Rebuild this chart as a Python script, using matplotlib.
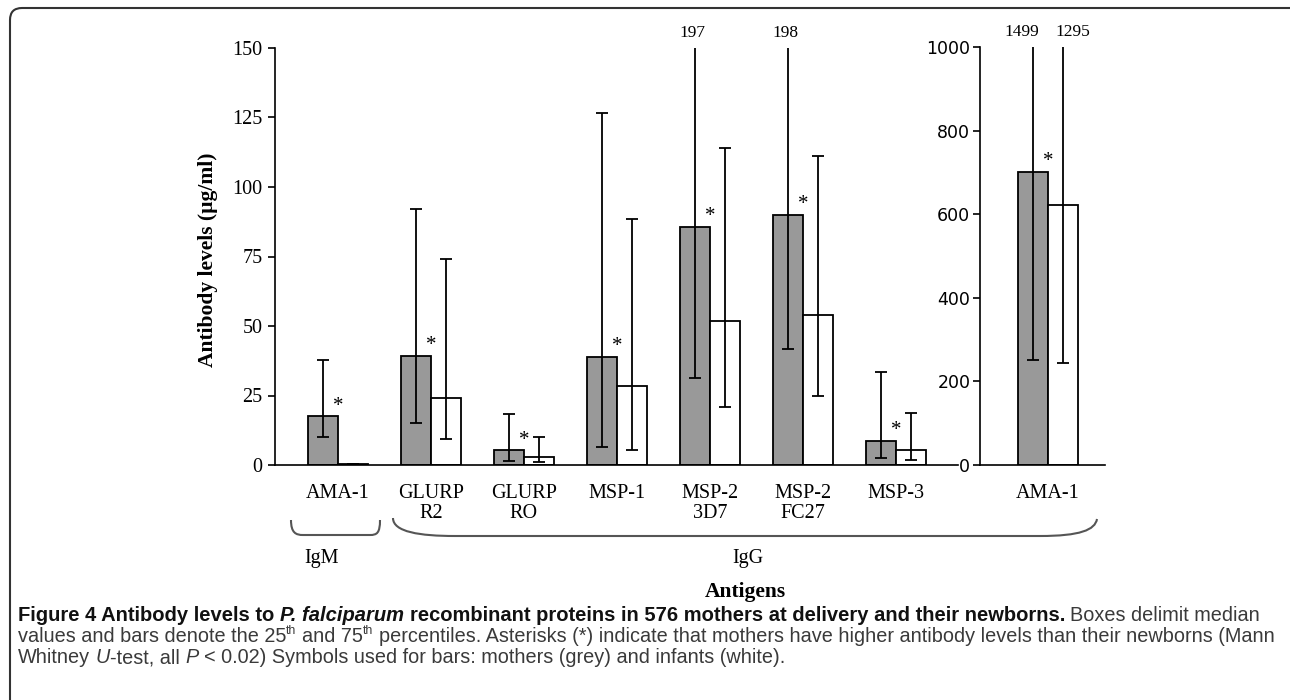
"""Antibody levels to P. falciparum antigens - mothers vs newborns"""
import numpy as np
import matplotlib
matplotlib.use("Agg")
import matplotlib.pyplot as plt
from matplotlib.path import Path
from matplotlib.patches import PathPatch, FancyBboxPatch
from matplotlib.transforms import IdentityTransform

# data (µg/ml): median with 25th / 75th percentiles
antigens = ['AMA-1', 'GLURP\nR2', 'GLURP\nRO', 'MSP-1', 'MSP-2\n3D7', 'MSP-2\nFC27', 'MSP-3']
mothers_med = [17.6, 39.2, 5.3, 39.0, 85.6, 90.0, 8.7]
mothers_p25 = [10.0, 15.1, 1.5, 6.5, 31.3, 41.7, 2.5]
mothers_p75 = [37.8, 92.0, 18.5, 126.5, 197, 198, 33.4]
infants_med = [0.3, 24.0, 3.0, 28.5, 51.9, 54.0, 5.3]
infants_p25 = [0.2, 9.4, 1.0, 5.5, 21.0, 24.8, 1.8]
infants_p75 = [0.5, 74.0, 10.0, 88.5, 114.0, 111.0, 18.6]

# IgG AMA-1 on its own scale
ama_label = 'AMA-1'
ama_mothers = [701, 251, 1499]   # median, p25, p75
ama_infants = [622, 244, 1295]

W, H = 1290, 700
fig = plt.figure(figsize=(W / 100, H / 100), dpi=100)
serif = 'Liberation Serif'
GREY = '#999999'
w = 0.323

ax = fig.add_axes([275 / W, 1 - 465 / H, 683 / W, 417 / H])
ax2 = fig.add_axes([980 / W, 1 - 465 / H, 125 / W, 418 / H])

x = np.arange(len(antigens))
mm, m25, m75 = map(np.array, (mothers_med, mothers_p25, mothers_p75))
im, i25, i75 = map(np.array, (infants_med, infants_p25, infants_p75))

ax.bar(x - w / 2, mm, w, color=GREY, edgecolor='black', lw=1.3, zorder=2)
ax.bar(x + w / 2, im, w, color='white', edgecolor='black', lw=1.3, zorder=2)
ebkw = dict(fmt='none', ecolor='black', elinewidth=1.3, capsize=4, capthick=1.3, zorder=3)
ax.errorbar(x - w / 2, mm, yerr=[mm - m25, m75 - mm], **ebkw)
ax.errorbar(x + w / 2, im, yerr=[im - i25, i75 - im], **ebkw)

ax.set_ylim(0, 150)
ax.set_xlim(-0.677, 6.667)
ax.set_yticks(np.arange(0, 151, 25))

xr = np.array([0.0])
ax2.bar(xr - w / 2, [ama_mothers[0]], w, color=GREY, edgecolor='black', lw=1.3, zorder=2)
ax2.bar(xr + w / 2, [ama_infants[0]], w, color='white', edgecolor='black', lw=1.3, zorder=2)
ax2.errorbar(xr - w / 2, [ama_mothers[0]], yerr=[[ama_mothers[0] - ama_mothers[1]], [ama_mothers[2] - ama_mothers[0]]], **ebkw)
ax2.errorbar(xr + w / 2, [ama_infants[0]], yerr=[[ama_infants[0] - ama_infants[1]], [ama_infants[2] - ama_infants[0]]], **ebkw)
ax2.set_ylim(0, 1000)
ax2.set_xlim(-0.731, 0.613)
ax2.set_yticks(np.arange(0, 1001, 200))

for a in (ax, ax2):
    for s in ('top', 'right'):
        a.spines[s].set_visible(False)
    a.spines['left'].set_linewidth(1.2)
    a.spines['bottom'].set_linewidth(1.2)
    a.tick_params(axis='y', direction='out', length=5, width=1.2, pad=4)
    a.tick_params(axis='x', length=0, pad=14)
ax2.tick_params(axis='y', pad=2)

ax.set_xticks(x)
ax.set_xticklabels(antigens, fontsize=14.5, family=serif, linespacing=1.05)
ax.set_yticklabels([str(v) for v in range(0, 151, 25)], fontsize=14.5, family=serif)
ax2.set_xticks(xr)
ax2.set_xticklabels([ama_label], fontsize=14.5, family=serif)
ax2.set_yticklabels([str(v) for v in range(0, 1001, 200)], fontsize=12.5, family='DejaVu Sans')

# asterisks above mothers' bars
for xi, v in zip(x, mm):
    ax.annotate('*', (xi, v), xytext=(0, 4), textcoords='offset points',
                ha='center', va='baseline', fontsize=15, family=serif)
ax2.annotate('*', (0, ama_mothers[0]), xytext=(0, 4), textcoords='offset points',
             ha='center', va='baseline', fontsize=15, family=serif)

# values of whiskers running off the top
for a, xs, tops, dx in ((ax, x - w / 2, m75, -2), (ax, x + w / 2, i75, 0),
                        (ax2, xr - w / 2, [ama_mothers[2]], -8), (ax2, xr + w / 2, [ama_infants[2]], 7)):
    ymax = a.get_ylim()[1]
    for xi, t in zip(xs, tops):
        if t > ymax:
            a.annotate(f'{t:g}', (xi, 1), xycoords=('data', 'axes fraction'),
                       xytext=(dx, 11), textcoords='offset points', ha='center',
                       va='center', fontsize=12.5, family=serif, annotation_clip=False)

tr = IdentityTransform()
fig.text(208, H - 260, 'Antibody levels (µg/ml)', rotation=90, ha='center', va='center',
         fontsize=15.5, fontweight='bold', family=serif, transform=tr)

# group braces
def brace(pts, codes):
    p = Path([(px, H - py) for px, py in pts], codes)
    fig.add_artist(PathPatch(p, fc='none', ec='#555555', lw=1.5, transform=tr))

brace([(291, 520), (291, 533), (296, 535), (303, 535), (370, 535), (377, 535), (380, 533), (380, 520)],
      [Path.MOVETO, Path.CURVE4, Path.CURVE4, Path.CURVE4, Path.LINETO, Path.CURVE4, Path.CURVE4, Path.CURVE4])
brace([(393, 518), (393, 532), (420, 536), (455, 536), (1040, 536), (1080, 536), (1095, 530), (1097, 519)],
      [Path.MOVETO, Path.CURVE4, Path.CURVE4, Path.CURVE4, Path.LINETO, Path.CURVE4, Path.CURVE4, Path.CURVE4])
fig.text(322, H - 558, 'IgM', ha='center', va='center', fontsize=14.5, family=serif, transform=tr)
fig.text(748, H - 558, 'IgG', ha='center', va='center', fontsize=14.5, family=serif, transform=tr)
fig.text(745, H - 592, 'Antigens', ha='center', va='center', fontsize=15.5,
         fontweight='bold', family=serif, transform=tr)

# frame
fig.add_artist(FancyBboxPatch((10, -30), 1320, H - 8 + 30, boxstyle='round,pad=0,rounding_size=12',
                              fc='none', ec='#333333', lw=1.5, transform=tr))

# caption
cap_font = ['Liberation Sans Narrow', 'Liberation Sans']
styles = {'b': ('bold', 'normal', '#111111'), 'bi': ('bold', 'italic', '#111111'),
          'n': ('normal', 'normal', '#3a3a3a'), 'i': ('normal', 'italic', '#3a3a3a'),
          'sup': ('normal', 'normal', '#3a3a3a')}
line1_bold = [('Figure 4 Antibody levels to ', 'b'), ('P. falciparum', 'bi'),
              (' recombinant proteins in 576 mothers at delivery and their newborns.', 'b')]
line1 = line1_bold + [(' Boxes delimit median', 'n')]
line2 = [('values and bars denote the 25', 'n'), ('th', 'sup'), (' and 75', 'n'), ('th', 'sup'),
         (' percentiles. Asterisks (*) indicate that mothers have higher antibody levels than their newborns (Mann', 'n')]
line3 = [('Whitney ', 'n'), ('U', 'i'), ('-test, all ', 'n'), ('P', 'i'),
         (' < 0.02) Symbols used for bars: mothers (grey) and infants (white).', 'n')]

renderer = fig.canvas.get_renderer()

def draw_line(x0, y, runs, sb, sn, keep=True):
    xcur = x0
    made = []
    for s, st in runs:
        wt, sl, col = styles[st]
        size = sb if st in ('b', 'bi') else sn
        fs = size * 0.62 if st == 'sup' else size
        dy = size * 0.55 if st == 'sup' else 0
        a = fig.text(0, 0, 'a a', fontsize=fs, fontweight=wt, family=cap_font, transform=tr)
        b = fig.text(0, 0, 'aa', fontsize=fs, fontweight=wt, family=cap_font, transform=tr)
        sp = a.get_window_extent(renderer).width - b.get_window_extent(renderer).width
        a.remove(); b.remove()
        lead = len(s) - len(s.lstrip(' '))
        trail = len(s) - len(s.rstrip(' '))
        xcur += lead * sp
        t = fig.text(xcur, H - y + dy, s.strip(' '), fontsize=fs, fontweight=wt, fontstyle=sl,
                     color=col, family=cap_font, va='baseline', ha='left', transform=tr)
        xcur = t.get_window_extent(renderer).x1 + trail * sp
        made.append(t)
    if not keep:
        for t in made:
            t.remove()
    return xcur

sb = 10 * 1052 / (draw_line(18, 621, line1_bold, 10, 10, keep=False) - 18)
sn = 10 * 1256 / (draw_line(18, 642, line2, 10, 10, keep=False) - 18)
draw_line(18, 621, line1, sb, sn)
draw_line(18, 642, line2, sb, sn)
draw_line(18, 663, line3, sb, sn)

fig.savefig('out.png', dpi=100)
